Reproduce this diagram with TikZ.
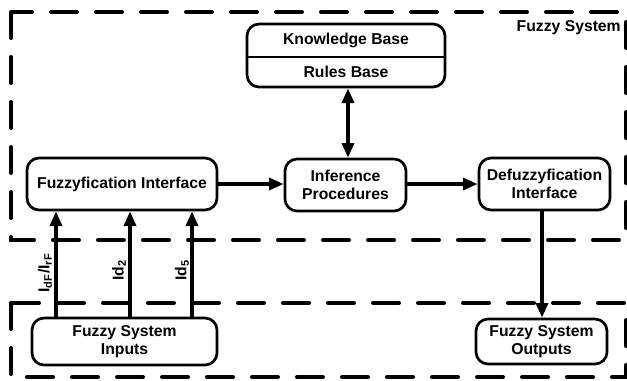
\documentclass[tikz,border=0pt]{standalone}
\usepackage{fontspec}
\setmainfont{Liberation Sans}
\usetikzlibrary{arrows.meta}
\begin{document}
\begin{tikzpicture}[x=0.75pt,y=-0.75pt,
  font=\fontsize{11.8}{13.5}\selectfont\bfseries,
  zone/.style={line width=3pt, line cap=round, dash pattern=on 19.5pt off 14.25pt},
  box/.style={draw, line width=2pt, rounded corners=9pt, align=center, inner sep=0pt},
  arr/.style={line width=2.5pt, -{Triangle[length=11pt,width=9pt]}},
  darr/.style={line width=2.5pt, {Triangle[length=11pt,width=9pt]}-{Triangle[length=11pt,width=9pt]}},
  lbl/.style={inner sep=0pt}]
\useasboundingbox (0,0) rectangle (627,380);
% zones
\draw[zone] (11,12) rectangle (626,240);
\draw[zone] (11,303) rectangle (626,377);
\node[lbl, anchor=east] (fs) at (621,28) {Fuzzy System};
% nodes
\node[box, minimum width=148.5pt, minimum height=47.25pt] (kb) at (346,55.5) {};
\draw[line width=2pt] (kb.west |- 0,57) -- (kb.east |- 0,57);
\node[lbl] (kbt) at (346,40) {Knowledge Base};
\node[lbl] (rbt) at (346,72) {Rules Base};
\node[box, minimum width=142.5pt, minimum height=39pt] (fz) at (122,184) {Fuzzyfication Interface};
\node[box, minimum width=90.75pt, minimum height=39pt] (inf) at (345.5,185) {Inference\\Procedures};
\node[box, minimum width=98.25pt, minimum height=39pt] (dfz) at (544.5,184) {Defuzzyfication\\Interface};
\node[box, minimum width=138.75pt, minimum height=35.25pt] (inp) at (124.5,341.5) {Fuzzy System\\Inputs};
\node[box, minimum width=98.25pt, minimum height=33.75pt] (out) at (541.5,341.5) {Fuzzy System\\Outputs};
% connectors
\coordinate (xa) at (56,0);
\coordinate (xb) at (130,0);
\coordinate (xc) at (192,0);
\coordinate (xk) at (348,0);
\coordinate (xo) at (542,0);
\draw[arr] (fz.east) -- (inf.west |- fz.east);
\draw[arr] (inf.east |- dfz.west) -- (dfz.west);
\draw[darr] (inf.north -| xk) -- (kb.south -| xk);
\draw[arr] (inp.north -| xa) -- (fz.south -| xa);
\draw[arr] (inp.north -| xb) -- (fz.south -| xb);
\draw[arr] (inp.north -| xc) -- (fz.south -| xc);
\draw[arr] (dfz.south -| xo) -- (out.north -| xo);
% labels
\node[lbl, rotate=90] (la) at (45,273) {I\textsubscript{dF}/I\textsubscript{rF}};
\node[lbl, rotate=90] (lb) at (119,270) {Id\textsubscript{2}};
\node[lbl, rotate=90] (lc) at (182,270) {Id\textsubscript{5}};
\end{tikzpicture}
\end{document}
